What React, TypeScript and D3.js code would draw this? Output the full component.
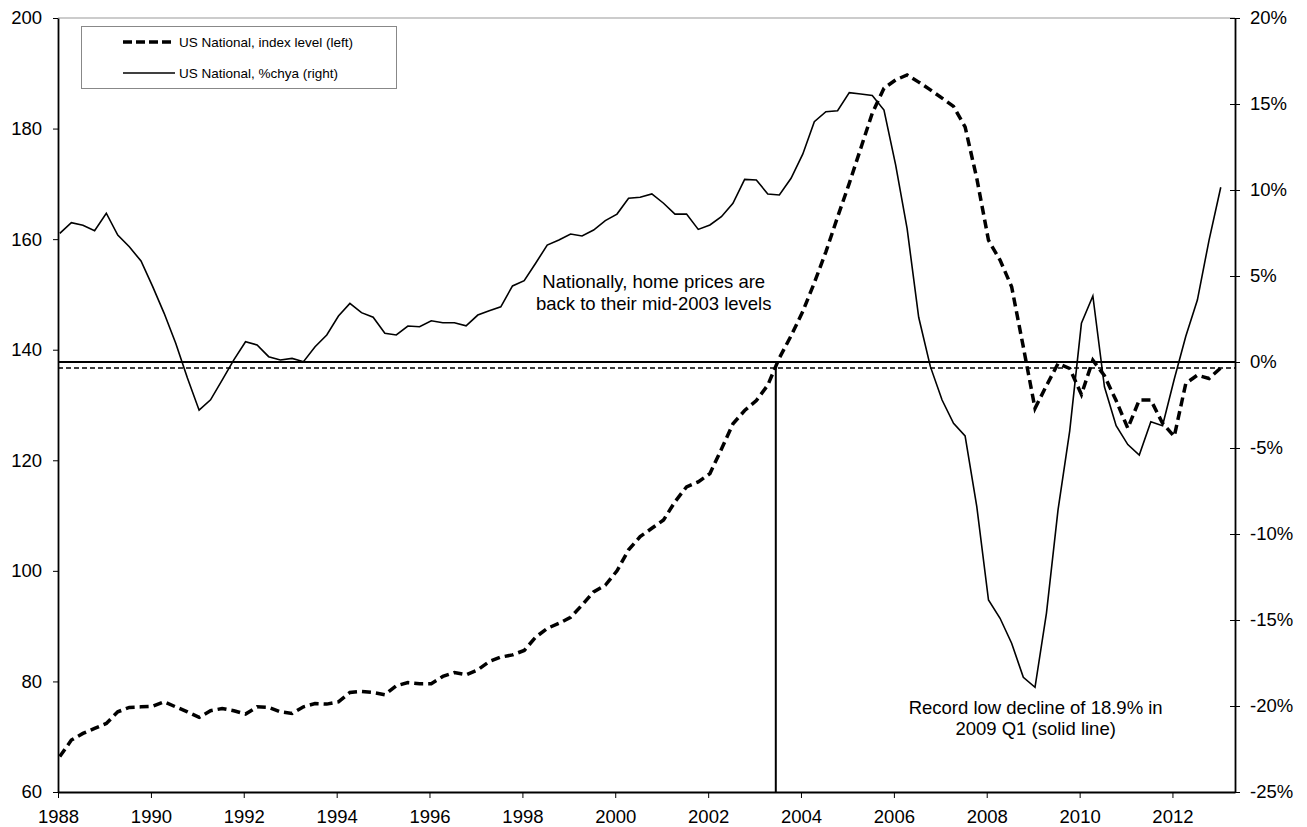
import React, { useEffect, useRef } from "react";
import * as d3 from "d3";

// S&P/Case-Shiller US National, quarterly 1988Q1 - 2013Q1
const startYear = 1988;

// index level (left axis)
const indexLevel = [
  66.4, 69.4, 70.6, 71.5, 72.4, 74.5, 75.3, 75.4, 75.5, 76.3,
  75.4, 74.5, 73.5, 74.7, 75.1, 74.7, 74.1, 75.4, 75.3, 74.5,
  74.2, 75.4, 76.0, 75.9, 76.3, 78.0, 78.2, 78.0, 77.6, 79.2,
  79.8, 79.6, 79.6, 80.9, 81.6, 81.2, 82.1, 83.6, 84.4, 84.8,
  85.6, 88.0, 89.6, 90.5, 91.6, 93.8, 96.2, 97.4, 100.0, 103.8,
  106.2, 107.7, 109.2, 112.5, 115.2, 116.1, 117.6, 122.0, 126.6, 129.0,
  130.8, 133.6, 138.5, 142.5, 146.9, 152.1, 157.7, 164.0, 170.1, 176.4,
  182.8, 187.3, 188.8, 189.7, 188.4, 187.0, 185.5, 184.0, 180.3, 171.0,
  159.8, 156.2, 151.4, 140.5, 129.4, 133.5, 137.5, 136.6, 131.9, 138.1,
  135.3, 130.8, 125.8, 130.9, 130.9, 126.7, 124.3, 133.9, 135.4, 134.8,
  136.7,
];

// %chya (right axis)
const yoyChange = [
  7.48, 8.1, 7.95, 7.63, 8.65, 7.38, 6.7, 5.87, 4.38, 2.83,
  1.09, -0.93, -2.8, -2.2, -1.05, 0.12, 1.18, 0.99, 0.31, 0.12,
  0.21, 0.02, 0.89, 1.57, 2.67, 3.41, 2.87, 2.6, 1.67, 1.57,
  2.09, 2.05, 2.4, 2.28, 2.28, 2.1, 2.73, 2.98, 3.21, 4.42,
  4.73, 5.74, 6.8, 7.09, 7.44, 7.33, 7.67, 8.22, 8.6, 9.52,
  9.58, 9.77, 9.23, 8.6, 8.6, 7.71, 7.97, 8.45, 9.23, 10.62,
  10.58, 9.77, 9.71, 10.68, 12.08, 13.97, 14.55, 14.61, 15.66, 15.58,
  15.5, 14.65, 11.45, 7.75, 2.6, -0.27, -2.21, -3.57, -4.3, -8.41,
  -13.84, -14.9, -16.35, -18.33, -18.91, -14.6, -8.6, -4.0, 2.25, 3.84,
  -1.44, -3.7, -4.8, -5.41, -3.47, -3.7, -1.0, 1.5, 3.6, 7.09,
  10.16,
];

const leftTicks = [60, 80, 100, 120, 140, 160, 180, 200];
const rightTicks = [-25, -20, -15, -10, -5, 0, 5, 10, 15, 20];
const yearTicks = [1988, 1990, 1992, 1994, 1996, 1998, 2000, 2002, 2004, 2006, 2008, 2010, 2012];

const legendLabels = ["US National, index level (left)", "US National, %chya (right)"];
const noteTop = ["Nationally, home prices are", "back to their mid-2003 levels"];
const noteBottom = ["Record low decline of 18.9% in", "2009 Q1 (solid line)"];

// latest level and the date it was last seen (mid-2003)
const latestLevel = indexLevel[indexLevel.length - 1];
const matchDate = new Date(2003, 5, 17);

const width = 1307;
const height = 827;
const margin = { top: 18, right: 72, bottom: 35, left: 58 };
const font = "'Liberation Sans', Arial, sans-serif";

export default function App() {
  const svgRef = useRef<SVGSVGElement | null>(null);

  useEffect(() => {
    const svg = d3.select(svgRef.current);
    svg.selectAll("*").remove();

    const dates = indexLevel.map(
      (_, i) => new Date(startYear + Math.floor(i / 4), (i % 4) * 3, 15)
    );

    const x = d3
      .scaleTime()
      .domain([new Date(1988, 0, 1), new Date(2013, 4, 7)])
      .range([margin.left, width - margin.right]);

    const yLeft = d3
      .scaleLinear()
      .domain([60, 200])
      .range([height - margin.bottom, margin.top]);

    const yRight = d3
      .scaleLinear()
      .domain([-25, 20])
      .range([height - margin.bottom, margin.top]);

    const x0 = margin.left;
    const x1 = width - margin.right;
    const yBottom = height - margin.bottom;

    // top frame line
    svg.append("line")
      .attr("x1", x0).attr("x2", x1)
      .attr("y1", margin.top).attr("y2", margin.top)
      .attr("stroke", "#999").attr("stroke-width", 1.2);

    // reference lines
    svg.append("line")
      .attr("x1", x0).attr("x2", x1)
      .attr("y1", yRight(0)).attr("y2", yRight(0))
      .attr("stroke", "#000").attr("stroke-width", 2);

    svg.append("line")
      .attr("x1", x0).attr("x2", x1)
      .attr("y1", yLeft(latestLevel)).attr("y2", yLeft(latestLevel))
      .attr("stroke", "#000").attr("stroke-width", 1.5)
      .attr("stroke-dasharray", "5,3");

    svg.append("line")
      .attr("x1", x(matchDate)).attr("x2", x(matchDate))
      .attr("y1", yLeft(latestLevel)).attr("y2", yBottom)
      .attr("stroke", "#000").attr("stroke-width", 2);

    // series
    const lineLeft = d3.line<number>()
      .x((_, i) => x(dates[i]))
      .y((d) => yLeft(d));

    const lineRight = d3.line<number>()
      .x((_, i) => x(dates[i]))
      .y((d) => yRight(d));

    svg.append("path")
      .datum(yoyChange)
      .attr("d", lineRight)
      .attr("fill", "none")
      .attr("stroke", "#000")
      .attr("stroke-width", 1.6)
      .attr("stroke-linejoin", "miter");

    svg.append("path")
      .datum(indexLevel)
      .attr("d", lineLeft)
      .attr("fill", "none")
      .attr("stroke", "#000")
      .attr("stroke-width", 3.5)
      .attr("stroke-dasharray", "9,5");

    // axes
    const styleAxis = (g: d3.Selection<SVGGElement, unknown, null, undefined>) => {
      g.select(".domain").attr("stroke", "#000").attr("stroke-width", 1.8);
      g.selectAll(".tick line").attr("stroke", "#000").attr("stroke-width", 1);
      g.selectAll(".tick text")
        .attr("fill", "#000")
        .style("font-family", font)
        .style("font-size", "18.5px");
    };

    svg.append("g")
      .attr("transform", `translate(${x0},0)`)
      .call(d3.axisLeft(yLeft).tickValues(leftTicks).tickSize(5).tickSizeOuter(0).tickPadding(11))
      .call(styleAxis);

    const right = svg.append("g")
      .attr("transform", `translate(${x1},0)`)
      .call(
        d3.axisRight(yRight)
          .tickValues(rightTicks)
          .tickSize(5)
          .tickSizeOuter(0)
          .tickPadding(10)
          .tickFormat((d) => `${d}%`)
      )
      .call(styleAxis);
    right.selectAll(".tick line").attr("x1", -5);

    svg.append("g")
      .attr("transform", `translate(0,${yBottom})`)
      .call(
        d3.axisBottom(x)
          .tickValues(yearTicks.map((yr) => new Date(yr, 0, 1)))
          .tickSize(6)
          .tickSizeOuter(0)
          .tickPadding(12)
          .tickFormat((d) => d3.timeFormat("%Y")(d as Date))
      )
      .call(styleAxis);

    // annotations
    const noteX = x(new Date(2000, 9, 30));
    noteTop.forEach((t, i) => {
      svg.append("text")
        .attr("x", noteX)
        .attr("y", yLeft(151.2) + i * 22)
        .attr("text-anchor", "middle")
        .style("font-family", font)
        .style("font-size", "18.5px")
        .text(t);
    });

    const note2X = x(new Date(2009, 0, 20));
    noteBottom.forEach((t, i) => {
      svg.append("text")
        .attr("x", note2X)
        .attr("y", yRight(-20.45) + i * 21)
        .attr("text-anchor", "middle")
        .style("font-family", font)
        .style("font-size", "18.5px")
        .text(t);
    });

    // legend
    const legend = svg.append("g");
    legend.append("rect")
      .attr("x", 81.5).attr("y", 26.5)
      .attr("width", 315).attr("height", 62)
      .attr("fill", "#fff").attr("stroke", "#888").attr("stroke-width", 1);

    legendLabels.forEach((label, i) => {
      const ly = 42 + i * 31;
      legend.append("line")
        .attr("x1", 123).attr("x2", 175)
        .attr("y1", ly).attr("y2", ly)
        .attr("stroke", "#000")
        .attr("stroke-width", i === 0 ? 3.5 : 1.5)
        .attr("stroke-dasharray", i === 0 ? "9,4" : null);
      legend.append("text")
        .attr("x", 179)
        .attr("y", ly + 5)
        .style("font-family", font)
        .style("font-size", "13.5px")
        .text(label);
    });
  }, []);

  return (
    <div style={{ position: "fixed", left: 0, top: 0, background: "#fff" }}>
      <svg ref={svgRef} width={width} height={height} style={{ display: "block" }} />
    </div>
  );
}
